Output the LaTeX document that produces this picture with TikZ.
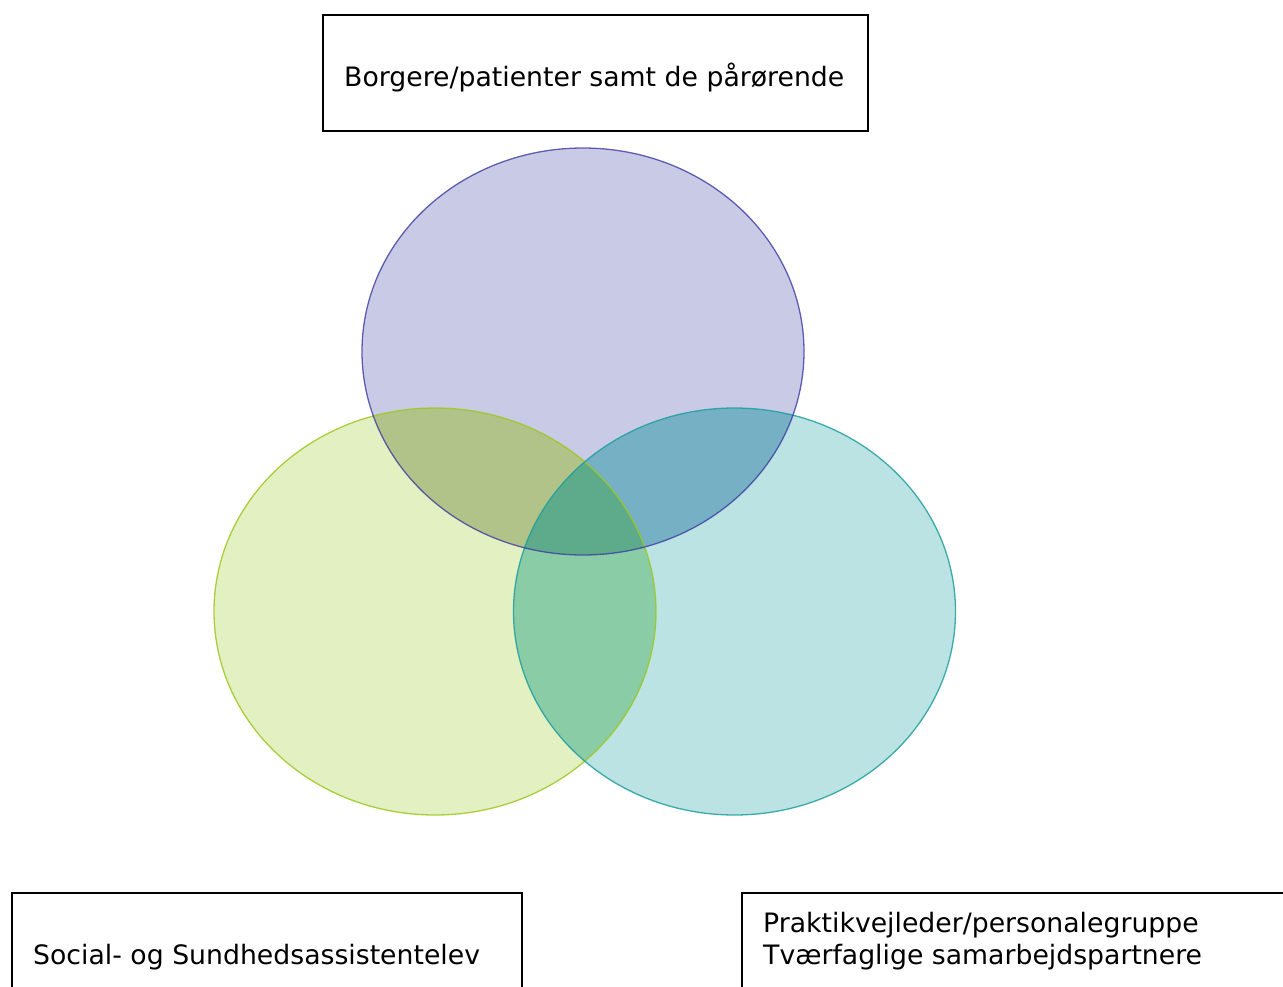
\documentclass[tikz,border=0pt]{standalone}
\usepackage{fontspec}
\setmainfont{DejaVu Sans}
\definecolor{cP}{HTML}{C9CAE6}
\definecolor{cG}{HTML}{E3F0C1}
\definecolor{cT}{HTML}{BCE3E3}
\definecolor{cGP}{HTML}{B2C38A}
\definecolor{cTP}{HTML}{75B0C4}
\definecolor{cGT}{HTML}{8ACCA5}
\definecolor{cGTP}{HTML}{5EAB8C}
\definecolor{sP}{HTML}{3C3CA0}
\definecolor{sG}{HTML}{9CC81E}
\definecolor{sT}{HTML}{1E9E9E}
\begin{document}
\begin{tikzpicture}[x=1pt,y=-1pt,
  labeltext/.style={font=\fontsize{26.7}{32}\selectfont,anchor=base west,align=left,inner sep=0pt},
  venn/.style={line width=1.3pt}]
\useasboundingbox (0,0) rectangle (1283,987);
\def\topE{(583,351.5) ellipse [x radius=221, y radius=203.5]}
\def\leftE{(435,611.5) ellipse [x radius=221, y radius=203.5]}
\def\rightE{(734.5,611.5) ellipse [x radius=221, y radius=203.5]}
% base fills
\fill[cP] \topE;
\fill[cG] \leftE;
\fill[cT] \rightE;
% pairwise overlaps
\begin{scope}\clip \leftE; \fill[cGP] \topE; \end{scope}
\begin{scope}\clip \rightE; \fill[cTP] \topE; \end{scope}
\begin{scope}\clip \leftE; \fill[cGT] \rightE; \end{scope}
\begin{scope}\clip \leftE; \clip \rightE; \fill[cGTP] \topE; \end{scope}
% outlines
\draw[venn,draw=sG,draw opacity=0.85] \leftE;
\draw[venn,draw=sT,draw opacity=0.85] \rightE;
\draw[venn,draw=sP,draw opacity=0.8] \topE;
% boxes
\draw[line width=1.6pt] (323,15) rectangle (868,131);
\node[labeltext] (t1) at (344,87) {Borgere/patienter samt de pårørende};
\draw[line width=1.6pt] (12,1000) |- (522,893) -- (522,1000);
\node[labeltext] (t2) at (33,964) {Social- og Sundhedsassistentelev};
\draw[line width=1.6pt] (742,1000) |- (1290,893);
\node[labeltext] (t3) at (763,964) {Praktikvejleder/personalegruppe\\Tværfaglige samarbejdspartnere};
\end{tikzpicture}
\end{document}
